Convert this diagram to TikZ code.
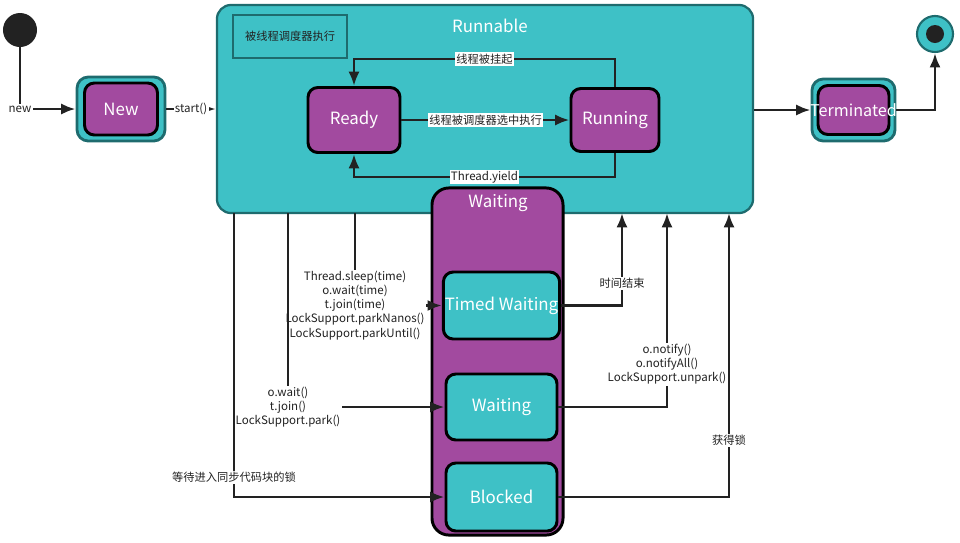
\documentclass[tikz,border=0pt]{standalone}
\usepackage{fontspec}
\setmainfont{Noto Sans CJK SC}
\usetikzlibrary{arrows.meta, positioning}
\definecolor{rteal}{HTML}{3EC1C6}
\definecolor{dkteal}{HTML}{1E6B6E}
\definecolor{tpurple}{HTML}{A24A9F}
\definecolor{ink}{HTML}{222222}

\begin{document}
\begin{tikzpicture}[
    x=0.025cm, y=-0.025cm,
    >={Latex[length=3.6mm, width=2.8mm]},
    every node/.style={text=ink},
    flow/.style={->, ink, line width=2.1pt},
    lbl/.style={fill=white, inner sep=1pt, align=center, font=\fontsize{8.2}{10}\selectfont},
    cjklbl/.style={lbl, font=\fontsize{8}{10}\selectfont},
    state/.style={draw=black, line width=2.1pt, rounded corners=7pt, inner sep=1pt,
      text=white, font=\fontsize{12}{14}\selectfont},
    shell/.style={fill=rteal, draw=dkteal, line width=2pt, rounded corners=8pt},
    title/.style={text=white, font=\fontsize{12}{14}\selectfont},
  ]

  \useasboundingbox (0,0) rectangle (960,542);

  % ===== Start and New =====
  \node[circle, fill=ink, minimum size=0.85cm, inner sep=0pt] (start) at (20,30) {};
  \node[shell, minimum width=2.2cm, minimum height=1.6cm] (newo) at (121,109) {};
  \node[state, fill=tpurple, minimum width=1.825cm, minimum height=1.3cm] (new) at (121,109) {New};

  % ===== Runnable =====
  \node[shell, line width=1.6pt, rounded corners=10pt, minimum width=13.4cm, minimum height=5.2cm]
    (runnable) at (485,109) {};
  \node[title] (runtitle) at (490,26) {Runnable};
  \node[draw=dkteal, line width=2pt, minimum width=2.85cm, minimum height=1.075cm,
    font=\fontsize{8}{10}\selectfont] (hint) at (290,36.5) {被线程调度器执行};

  \node[state, fill=tpurple, minimum width=2.3cm, minimum height=1.625cm] (ready) at (354,120) {Ready};
  \node[state, fill=tpurple, minimum width=2.2cm, minimum height=1.575cm] (running) at (615,120) {Running};

  \draw[flow] (ready) -- (running) node[midway, cjklbl] {线程被调度器选中执行};
  \draw[flow] (running.north) -- ++(0,-28) -| (ready.north) node[pos=.25, cjklbl] {线程被挂起};
  \draw[flow] (running.south) -- ++(0,24) -| (ready.south) node[pos=.25, lbl] {Thread.yield};

  % ===== Terminated and end =====
  \node[shell, minimum width=2.075cm, minimum height=1.55cm] (termo) at (853.5,110) {};
  \node[state, fill=tpurple, minimum width=1.775cm, minimum height=1.225cm] (term) at (853.5,110) {};
  \node[circle, fill=rteal, draw=dkteal, line width=1.5pt, minimum size=0.9cm, inner sep=0pt]
    (endo) at (935,34) {};
  \node[circle, fill=ink, minimum size=0.45cm, inner sep=0pt] (enddot) at (endo) {};

  \draw[flow] (start) |- (newo.west) node[pos=.5, lbl] {new};
  \draw[flow] (newo.east) -- (newo.east -| runnable.west) node[midway, lbl] {start()};
  \draw[flow] (runnable.east |- termo.west) -- (termo.west);
  \draw[flow] (termo.east) -| (endo.south);
  \node[title, font=\fontsize{11.5}{14}\selectfont] (termtext) at (term) {Terminated};

  % ===== Waiting =====
  \node[state, fill=tpurple, rounded corners=12pt, minimum width=3.275cm, minimum height=8.675cm]
    (waitbox) at (497.5,361.5) {};
  \node[title] (waittitle) at (498,203) {Waiting};

  \node[state, fill=rteal, minimum width=2.775cm, minimum height=1.675cm] (timed) at (501.5,305.5) {Timed Waiting};
  \node[state, fill=rteal, minimum width=2.775cm, minimum height=1.65cm] (waiting) at (501.5,407) {Waiting};
  \node[state, fill=rteal, minimum width=2.775cm, minimum height=1.7cm] (blocked) at (501.5,497) {Blocked};

  % taps on the Runnable border
  \coordinate (tapsync) at (234,213);
  \coordinate (tappark) at (288,213);
  \coordinate (tapsleep) at (355,213);
  \coordinate (taptime) at (622,213);
  \coordinate (tapnotify) at (667,213);
  \coordinate (taplock) at (729,213);

  \draw[flow] (tapsleep) |- (timed.west) node[pos=.5, lbl]
    {Thread.sleep(time)\\o.wait(time)\\t.join(time)\\LockSupport.parkNanos()\\LockSupport.parkUntil()};
  \draw[flow] (tappark) |- (waiting.west) node[pos=.5, lbl] {o.wait()\\t.join()\\LockSupport.park()};
  \draw[flow] (tapsync) |- (blocked.west) node[pos=.465, cjklbl] {等待进入同步代码块的锁};

  \draw[flow] (timed.east) -| (taptime) node[pos=.62, cjklbl] {时间结束};
  \draw[flow] (waiting.east) -| (tapnotify) node[pos=.61, lbl] {o.notify()\\o.notifyAll()\\LockSupport.unpark()};
  \draw[flow] (blocked.east) -| (taplock) node[pos=.6, cjklbl] {获得锁};

\end{tikzpicture}
\end{document}
